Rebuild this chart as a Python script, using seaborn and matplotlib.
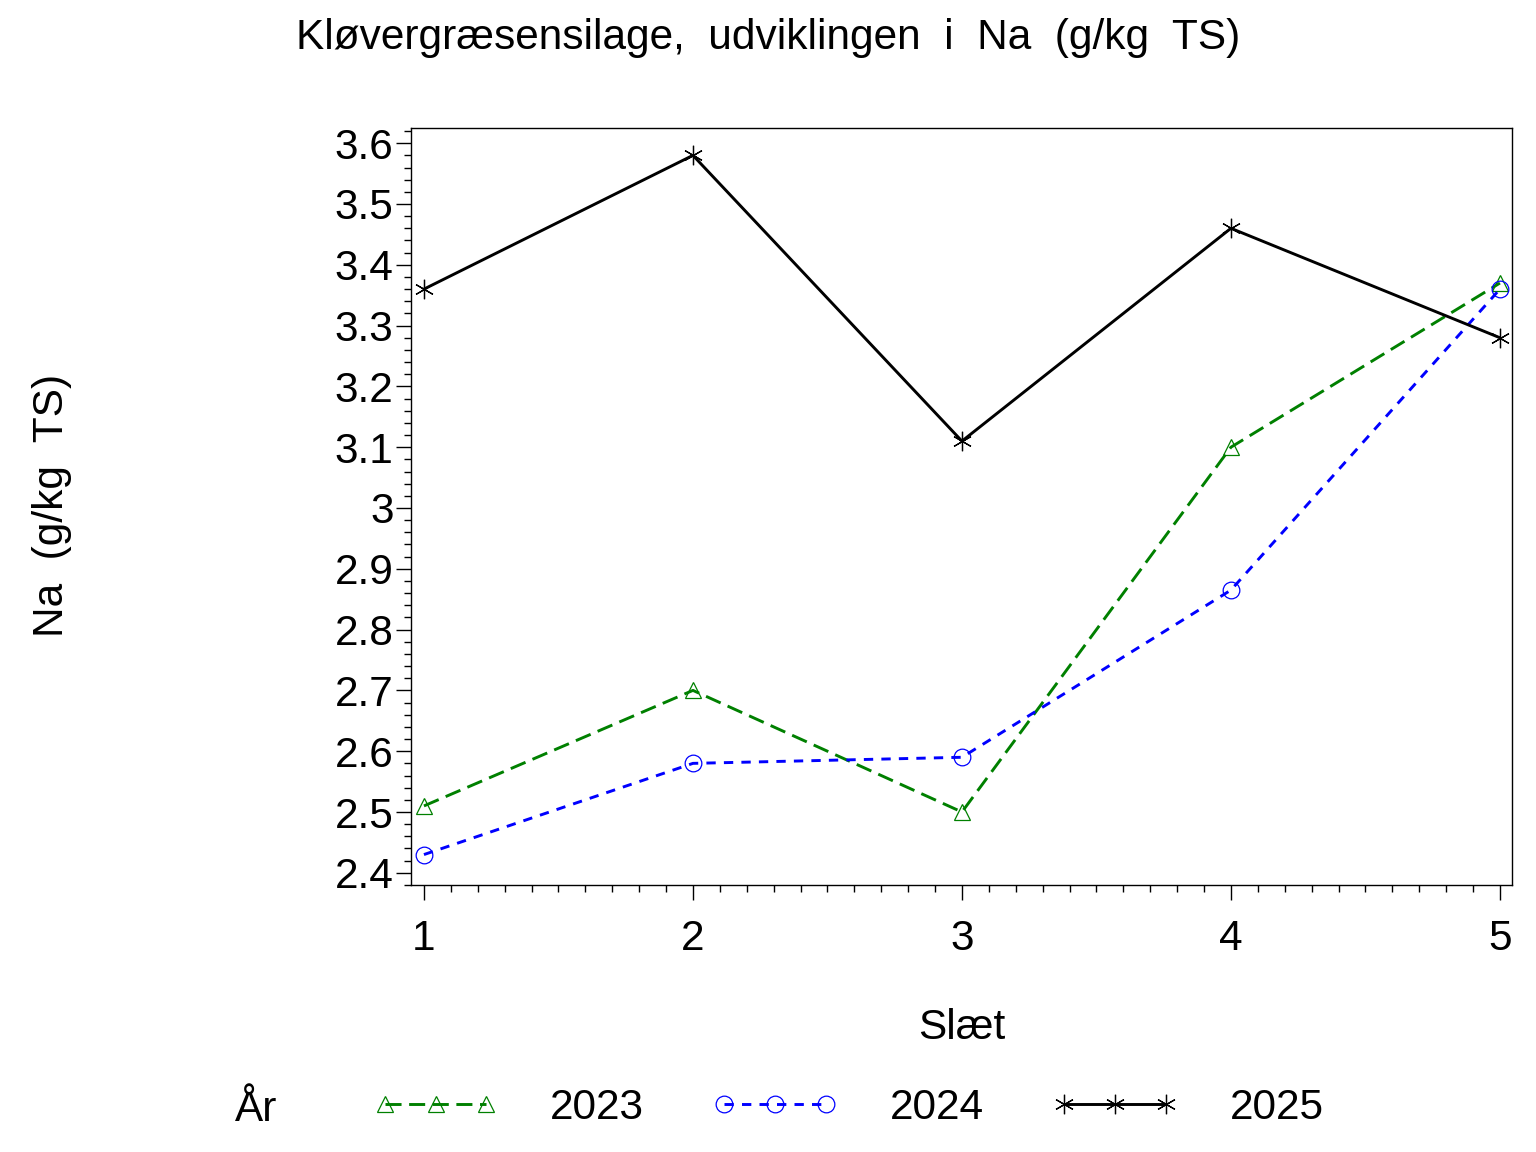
import numpy as np
import pandas as pd
import matplotlib
matplotlib.use("Agg")
import matplotlib.pyplot as plt
import seaborn as sns
from matplotlib.ticker import MultipleLocator, FuncFormatter

# Data
slaet = [1, 2, 3, 4, 5]
na_2023 = [2.51, 2.70, 2.50, 3.10, 3.37]
na_2024 = [2.43, 2.58, 2.59, 2.865, 3.36]
na_2025 = [3.36, 3.58, 3.11, 3.46, 3.28]
years = ["2023", "2024", "2025"]

df = pd.DataFrame({
    "Slæt": slaet * 3,
    "Na": na_2023 + na_2024 + na_2025,
    "År": [y for y in years for _ in slaet],
})

sns.set_style("ticks")
plt.rcParams["font.family"] = ["Liberation Sans", "DejaVu Sans"]
plt.rcParams["text.color"] = "black"
plt.rcParams["axes.labelcolor"] = "black"
plt.rcParams["xtick.color"] = "black"
plt.rcParams["ytick.color"] = "black"

fs = 30.5

fig = plt.figure(figsize=(15.36, 11.52), dpi=100)
ax = fig.add_axes([0.2676, 0.2318, 0.7168, 0.6571])

palette = {"2023": "#008000", "2024": "#0000ff", "2025": "#000000"}
markers = {"2023": "^", "2024": "o", "2025": "s"}
dashes = {"2023": (5.5, 2.6), "2024": (3.2, 2.8), "2025": ""}

sns.lineplot(
    data=df, x="Slæt", y="Na", hue="År", style="År",
    palette=palette, markers=markers, dashes=dashes,
    hue_order=years, style_order=years,
    errorbar=None, linewidth=2.1, markersize=12, legend=False, ax=ax
)

# open markers like the original; asterisk for 2025
for line in ax.get_lines():
    c = line.get_color()
    line.set_markerfacecolor("none")
    line.set_markeredgecolor(c)
    line.set_markeredgewidth(0.9)
ax.get_lines()[2].set_marker((6, 2, 0))
ax.get_lines()[2].set_markersize(14)

ax.set_xlim(0.952, 5.045)
ax.set_ylim(2.380, 3.625)
ax.xaxis.set_major_locator(MultipleLocator(1))
ax.xaxis.set_minor_locator(MultipleLocator(0.1))
ax.yaxis.set_major_locator(MultipleLocator(0.1))
ax.yaxis.set_minor_locator(MultipleLocator(0.02))
ax.yaxis.set_major_formatter(FuncFormatter(lambda v, p: "%g" % round(v, 2)))
ax.xaxis.set_major_formatter(FuncFormatter(lambda v, p: "%d" % v))

ax.tick_params(which="major", length=10.5, width=1, labelsize=fs, color="black")
ax.tick_params(which="minor", length=5, width=1, color="black")
ax.tick_params(axis="x", which="major", pad=14)
ax.tick_params(axis="y", which="major", pad=2)
for s in ax.spines.values():
    s.set_visible(True)
    s.set_color("black")
    s.set_linewidth(1)

ax.set_xlabel("Slæt", fontsize=fs)
ax.xaxis.set_label_coords(0.5, -0.163)
ax.xaxis.label.set_verticalalignment("top")
ax.set_ylabel("Na  (g/kg  TS)", fontsize=fs)
ax.yaxis.set_label_coords(-0.308, 0.502)

fig.text(0.5, 1 - 38 / 1152, "Kløvergræsensilage,  udviklingen  i  Na  (g/kg  TS)",
         ha="center", va="center", fontsize=fs)

# legend along the bottom
handles = ax.get_lines()[:3]
fig.text(235 / 1536, 1 - 1110 / 1152, "År", ha="left", va="center", fontsize=fs)
fig.legend(handles, years, loc="center left",
           bbox_to_anchor=(372 / 1536, 1 - 1108 / 1152),
           ncol=3, frameon=False, fontsize=fs, numpoints=3,
           handlelength=3.0, handletextpad=1.2, columnspacing=1.6,
           borderpad=0, borderaxespad=0)

fig.savefig("out.png", dpi=100)
